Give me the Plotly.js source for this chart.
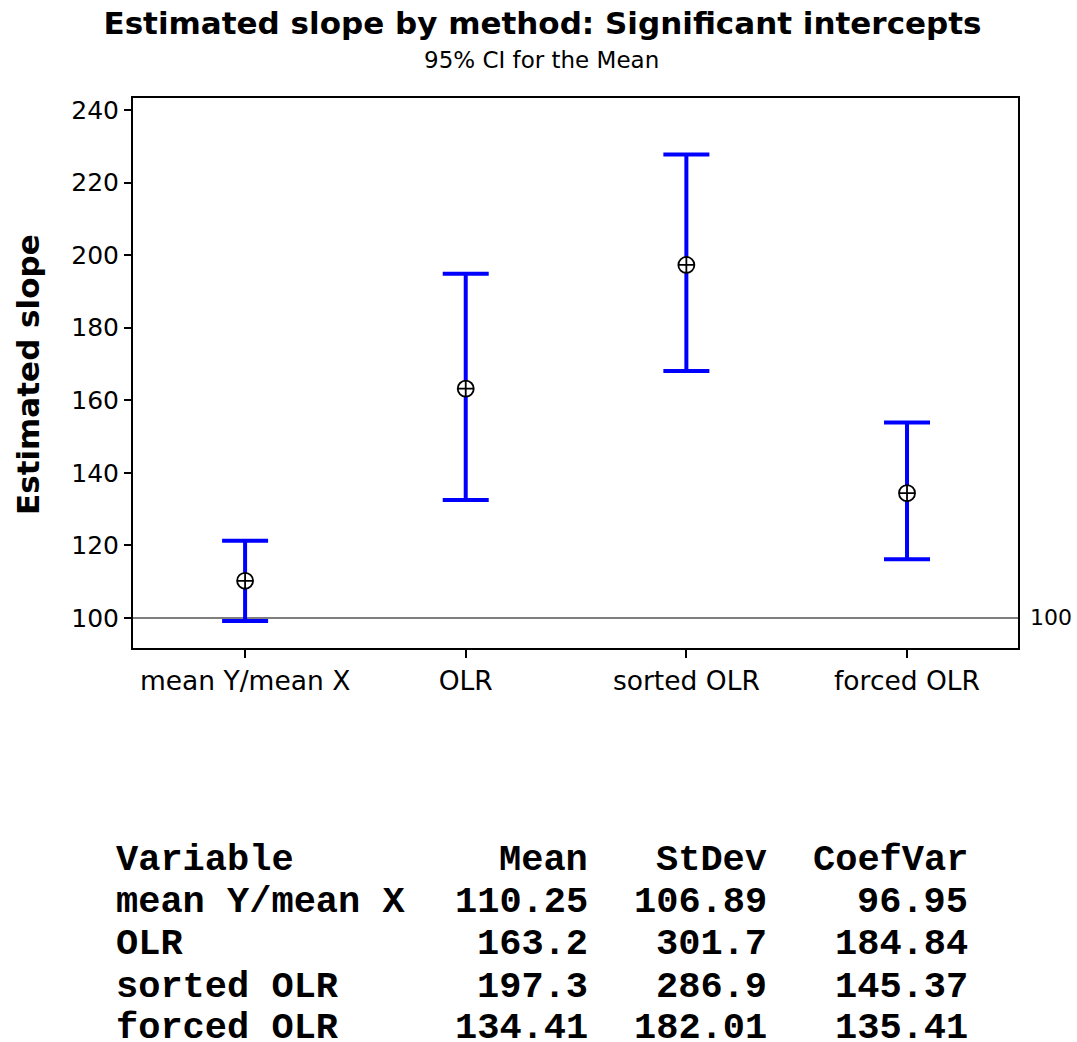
<!DOCTYPE html>
<html>
<head>
<meta charset="utf-8">
<script src="https://cdn.plot.ly/plotly-3.0.1.min.js"></script>
<style>html,body{margin:0;padding:0;background:#fff;}#chart{width:1077px;height:1042px;}</style>
</head>
<body>
<div id="chart"></div>
<script>
// ---- data ----
const methods = ["mean Y/mean X", "OLR", "sorted OLR", "forced OLR"];
const means = [110.25, 163.2, 197.3, 134.41];
const ciUpper = [121.3, 194.9, 227.7, 153.9];
const ciLower = [99.2, 132.5, 168.1, 116.2];
const stdevs = ["106.89", "301.7", "286.9", "182.01"];
const coefVars = ["96.95", "184.84", "145.37", "135.41"];
const meanLabels = ["110.25", "163.2", "197.3", "134.41"];
const tableHeader = ["Variable", "Mean", "StDev", "CoefVar"];
const refValue = 100;
const yTicks = [100, 120, 140, 160, 180, 200, 220, 240];

// ---- layout helpers (pixel geometry) ----
const W = 1077, H = 1042;
const plotL = 133, plotR = 1018, plotT = 98, plotB = 648;
const px2x = x => (x - plotL) / (plotR - plotL);
const px2y = y => (plotB - y) / (plotB - plotT);

const xIdx = methods.map((_, i) => i);

const trace = {
  type: "scatter",
  mode: "markers",
  x: xIdx,
  y: means,
  marker: {
    symbol: "circle-cross",
    size: 16,
    color: "#ffffff",
    line: {color: "#000000", width: 1.8}
  },
  error_y: {
    type: "data",
    symmetric: false,
    array: means.map((m, i) => ciUpper[i] - m),
    arrayminus: means.map((m, i) => m - ciLower[i]),
    color: "#0000ff",
    thickness: 4,
    width: 23
  },
  hoverinfo: "skip",
  showlegend: false
};

const font = "DejaVu Sans, sans-serif";
const mono = "Liberation Mono, Courier New, monospace";

const annotations = [];
// reference line label
annotations.push({
  xref: "paper", yref: "y", x: px2x(1028), y: refValue, xanchor: "left", yanchor: "middle",
  text: String(refValue), showarrow: false, font: {family: font, size: 22, color: "#000"}
});

// y axis title
annotations.push({
  xref: "paper", yref: "paper", x: px2x(28), y: px2y(375), xanchor: "center", yanchor: "middle",
  textangle: -90, text: "<b>Estimated slope</b>", showarrow: false,
  font: {family: font, size: 31, color: "#000"}
});

// table
const rowY = [860, 902, 944, 987, 1028];
const colLeft = 114;
const colRight = [590, 769, 970];
const tfont = {family: mono, size: 37, color: "#000"};
function cell(text, xpx, ypx, anchor) {
  annotations.push({
    xref: "paper", yref: "paper", x: px2x(xpx), y: px2y(ypx),
    xanchor: anchor, yanchor: "middle", text: "<b>" + text + "</b>", showarrow: false, font: tfont
  });
}
cell(tableHeader[0], colLeft, rowY[0], "left");
cell(tableHeader[1], colRight[0], rowY[0], "right");
cell(tableHeader[2], colRight[1], rowY[0], "right");
cell(tableHeader[3], colRight[2], rowY[0], "right");
methods.forEach((m, i) => {
  cell(m, colLeft, rowY[i + 1], "left");
  cell(meanLabels[i], colRight[0], rowY[i + 1], "right");
  cell(stdevs[i], colRight[1], rowY[i + 1], "right");
  cell(coefVars[i], colRight[2], rowY[i + 1], "right");
});

// subtitle
annotations.push({
  xref: "paper", yref: "paper", x: px2x(541), y: px2y(60), xanchor: "center", yanchor: "middle",
  text: "95% CI for the Mean", showarrow: false, font: {family: font, size: 23, color: "#000"}
});

const layout = {
  width: W, height: H,
  paper_bgcolor: "#ffffff", plot_bgcolor: "#ffffff",
  margin: {l: plotL, r: W - plotR, t: plotT, b: H - plotB, pad: 0},
  title: {
    text: "<b>Estimated slope by method: Significant intercepts</b>",
    font: {family: font, size: 31, color: "#000"},
    x: 542.5 / W, xanchor: "center", xref: "container",
    y: 1 - 23 / H, yanchor: "middle", yref: "container"
  },
  xaxis: {
    range: [-0.508, 3.503],
    tickmode: "array", tickvals: xIdx, ticktext: methods,
    ticks: "outside", ticklen: 8, tickwidth: 2, tickcolor: "#000",
    showline: true, linecolor: "#000", linewidth: 2, mirror: true,
    showgrid: false, zeroline: false,
    tickfont: {family: font, size: 26.5, color: "#000"}
  },
  yaxis: {
    range: [91.73, 243.3],
    tickmode: "array", tickvals: yTicks,
    ticks: "outside", ticklen: 7, tickwidth: 2, tickcolor: "#000",
    showline: true, linecolor: "#000", linewidth: 2, mirror: true,
    showgrid: false, zeroline: false,
    tickfont: {family: font, size: 25, color: "#000"}
  },
  shapes: [{
    type: "line", xref: "paper", yref: "y", x0: 0, x1: 1, y0: refValue, y1: refValue,
    line: {color: "#555555", width: 1.5}, layer: "below"
  }],
  annotations: annotations
};

Plotly.newPlot("chart", [trace], layout, {staticPlot: true, displayModeBar: false});
</script>
</body>
</html>
